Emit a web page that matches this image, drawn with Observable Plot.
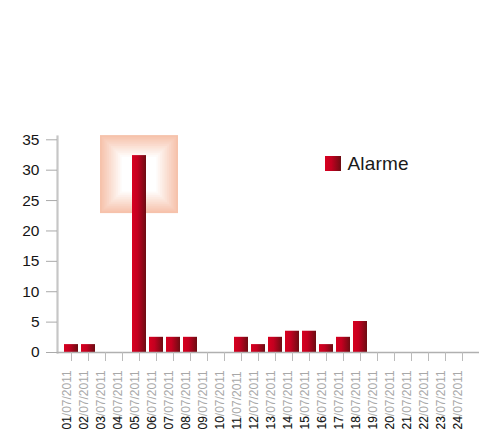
<!DOCTYPE html>
<html>
<head>
<meta charset="utf-8">
<script src="https://cdn.jsdelivr.net/npm/d3@7"></script>
<script src="https://cdn.jsdelivr.net/npm/@observablehq/plot@0.6"></script>
<style>
  body { margin: 0; background: #fff; }
  #wrap { position: relative; width: 479px; height: 434px; font-family: "Liberation Sans", Arial, sans-serif; }
  #wrap svg { position: absolute; left: 0; top: 0; }
  .lg-swatch { position: absolute; left: 325px; top: 156px; width: 16px; height: 15px;
    background: linear-gradient(to right, #d8001f 0%, #c30020 40%, #6c0c12 100%); }
  .lg-text { position: absolute; left: 347.5px; top: 153.5px; font-size: 19px; line-height: 19px; color: #1a1a1a; white-space: nowrap; letter-spacing: 0.2px; }
</style>
</head>
<body>
<div id="wrap"></div>
<script>
// ---- data ----
const days = ["01","02","03","04","05","06","07","08","09","10","11","12",
              "13","14","15","16","17","18","19","20","21","22","23","24"];
const monthSuffix = "/07/2011";
const alarme = [1.3, 1.3, 0, 0, 32.4, 2.5, 2.5, 2.5, 0, 0, 2.5, 1.3,
                2.5, 3.5, 3.5, 1.3, 2.5, 5.1, 0, 0, 0, 0, 0, 0];
const yTicks = [0, 5, 10, 15, 20, 25, 30, 35];
const seriesName = "Alarme";

const data = days.map((d, i) => ({day: d, label: d + monthSuffix, value: alarme[i]}));

// ---- gradient defs ----
const defsMark = () => {
  const defs = d3.create("svg:defs");
  const g = defs.append("linearGradient").attr("id", "barGrad")
    .attr("x1", 0).attr("x2", 1).attr("y1", 0).attr("y2", 0);
  g.append("stop").attr("offset", "0%").attr("stop-color", "#d8001f");
  g.append("stop").attr("offset", "40%").attr("stop-color", "#c30020");
  g.append("stop").attr("offset", "100%").attr("stop-color", "#6c0c12");
  return defs.node();
};

// ---- highlight glow around the max bar ----
const highlightMark = (index, scales) => {
  const x = scales.x, y = scales.y;
  const bw = typeof x.bandwidth === "function" ? x.bandwidth() : x.bandwidth;
  const i = d3.maxIndex(alarme);
  const cx = x(days[i]) + bw / 2;
  const top = y(alarme[i]) - 20;
  const size = 78;
  const g = d3.create("svg:g");
  const steps = 13, stepPx = 1.8;
  const interp = d3.interpolateRgb("#f6c2ab", "#ffffff");
  for (let k = 0; k < steps; k++) {
    const inset = k * stepPx;
    g.append("rect")
      .attr("x", cx - size / 2 + inset)
      .attr("y", top + inset)
      .attr("width", size - 2 * inset)
      .attr("height", size - 2 * inset)
      .attr("fill", interp(k / (steps - 1)));
  }
  return g.node();
};

const chart = Plot.plot({
  width: 479,
  height: 434,
  marginTop: 136,
  marginBottom: 82,
  marginLeft: 57,
  marginRight: 0,
  style: {fontFamily: "Liberation Sans, Arial, sans-serif", background: "transparent", overflow: "visible"},
  x: {type: "band", domain: days, padding: 0.15, insetLeft: 3.6, insetRight: 6.1},
  y: {domain: [0, 35], insetTop: 3.3},
  marks: [
    defsMark,
    highlightMark,
    Plot.barY(data.filter(d => d.value > 0), {x: "day", y: "value", fill: "url(#barGrad)"}),
    Plot.frame({anchor: "left", stroke: "#c6c6c6", strokeWidth: 2.2}),
    Plot.frame({anchor: "bottom", stroke: "#b0b0b0", strokeWidth: 1.5}),
    Plot.axisY({ticks: yTicks, tickSize: 11, tickPadding: 7, stroke: "#aaa", fill: "#151515", fontSize: 15.5, label: null}),
    Plot.axisX({tickSize: 9, stroke: "#bbb", tickFormat: () => "", label: null}),
    Plot.text(data, {x: "day", text: "label", frameAnchor: "bottom", dy: 77, dx: -1,
      rotate: -90, textAnchor: "start", lineAnchor: "bottom", fill: "#a8a8a8", fontSize: 12}),
    Plot.text(data, {x: "day", text: "day", frameAnchor: "bottom", dy: 77, dx: -1,
      rotate: -90, textAnchor: "start", lineAnchor: "bottom", fill: "#1a1a1a", fontSize: 12})
  ]
});

const wrap = document.getElementById("wrap");
wrap.appendChild(chart);
const sw = document.createElement("div"); sw.className = "lg-swatch"; wrap.appendChild(sw);
const lt = document.createElement("div"); lt.className = "lg-text"; lt.textContent = seriesName; wrap.appendChild(lt);
</script>
</body>
</html>
